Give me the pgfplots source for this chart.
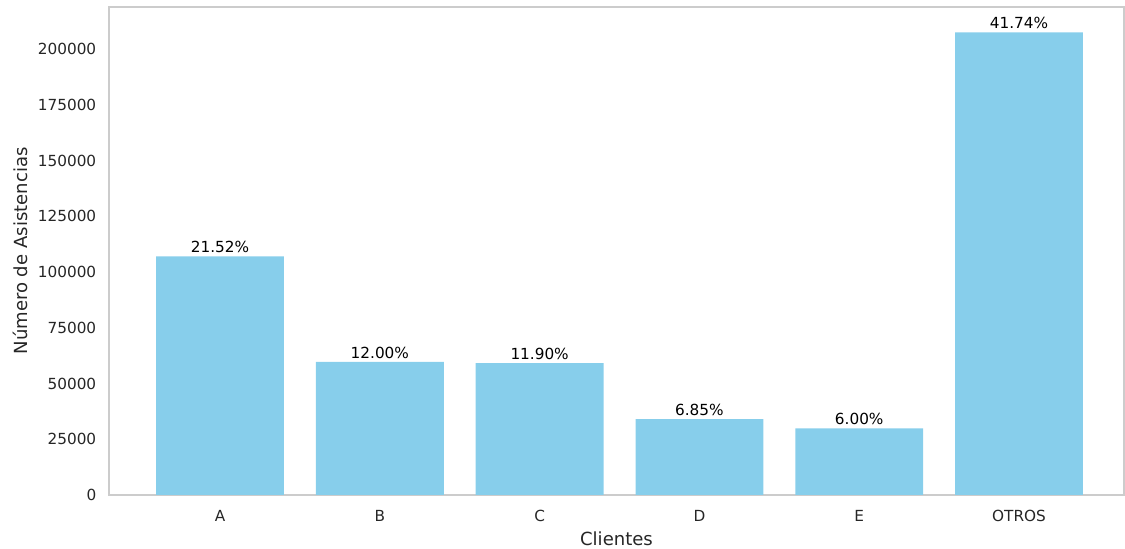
\documentclass[border=0pt]{standalone}
\usepackage{fontspec}
\setmainfont{DejaVu Sans}
\usepackage{pgfplots}
\pgfplotsset{compat=1.18}
\definecolor{skyblue}{HTML}{87CEEB}
\definecolor{spine}{HTML}{CCCCCC}
\definecolor{ticktext}{HTML}{262626}
\pgfplotstableread{
x y pct
0 106954 21.52
1 59640 12.00
2 59143 11.90
3 34045 6.85
4 29820 6.00
5 207448 41.74
}\datatable
\begin{document}
\begin{tikzpicture}
\begin{axis}[
  at={(0,0)}, anchor=south west,
  scale only axis, width=730.8pt, height=351.36pt,
  xmin=-0.695, xmax=5.657, ymin=0, ymax=218800,
  ybar, bar width=0.8,
  axis line style={spine, line width=1.25pt},
  tick style={draw=none},
  xtick={0,...,5}, xticklabels={A,B,C,D,E,OTROS},
  ytick={0,25000,...,200000},
  scaled y ticks=false,
  /pgf/number format/assume math mode=true,
  yticklabel style={/pgf/number format/fixed, /pgf/number format/1000 sep={}, anchor=east, inner sep=0pt},
  yticklabel shift=9.0pt,
  xticklabel style={anchor=north, inner sep=0pt},
  xticklabel shift=6.5pt,
  every tick label/.append style={font=\fontsize{11}{13}\selectfont, text=ticktext},
  xlabel={Clientes}, ylabel={Número de Asistencias},
  every axis x label/.style={at={(axis description cs:0.5,-0.0902)}, anchor=center, font=\fontsize{13}{15}\selectfont, text=ticktext},
  every axis y label/.style={at={(axis description cs:-0.0876,0.5)}, anchor=center, rotate=90, font=\fontsize{13}{15}\selectfont, text=ticktext},
  clip=false,
]
\addplot[fill=skyblue, draw=none,
  nodes near coords={\pgfmathprintnumber[fixed,precision=2,fixed zerofill]{\pgfplotspointmeta}\%},
  point meta=explicit,
  nodes near coords style={font=\fontsize{11}{13}\selectfont, text=black, anchor=south, inner sep=0pt, yshift=2.2pt, /pgf/number format/assume math mode=true}]
  table[x=x, y=y, meta=pct] {\datatable};
\end{axis}
\pgfresetboundingbox
\useasboundingbox (-78.48pt,-38.88pt) rectangle (731.52pt,356.4pt);
\end{tikzpicture}
\end{document}
